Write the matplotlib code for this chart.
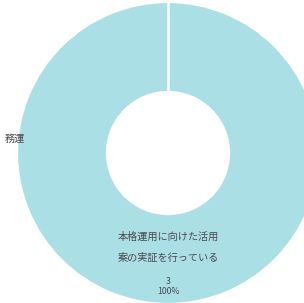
import matplotlib.pyplot as plt

plt.rcParams['font.family'] = ['Noto Sans CJK JP', 'DejaVu Sans']

labels = ['本格運用に向けた活用\n案の実証を行っている']
counts = [3]
pcts = ['100%']

W, H = 304, 303
fig = plt.figure(figsize=(W / 100, H / 100), dpi=100)
ax = fig.add_axes([0, 0, 1, 1])

cx, cy = 168, H - 153
r = 151
r_in = 61
ax.pie(counts, startangle=90, counterclock=False, radius=r, center=(cx, cy),
       colors=['#abdfe6'],
       wedgeprops=dict(width=r - r_in, edgecolor='white', linewidth=1.6))
# seam where the single slice starts
ax.plot([cx, cx], [cy + r_in, cy + r], color='white', lw=1.8)

ax.set_xlim(0, W)
ax.set_ylim(0, H)
ax.set_aspect('equal')
ax.axis('off')

txt = '#4a4a4a'
lines = labels[0].split('\n')
ax.text(cx, H - 237, lines[0], ha='center', va='center', fontsize=7.3, color=txt)
ax.text(cx, H - 258, lines[1], ha='center', va='center', fontsize=7.3, color=txt)
ax.text(cx, H - 281, str(counts[0]), ha='center', va='center', fontsize=6.3, color=txt)
ax.text(cx, H - 292, pcts[0], ha='center', va='center', fontsize=6.3, color=txt)

# label on the left edge, mostly outside the view in the original
ax.text(25, H - 139, '務運', ha='right', va='center', fontsize=7.3, color=txt)

fig.savefig('out.png', dpi=100)
